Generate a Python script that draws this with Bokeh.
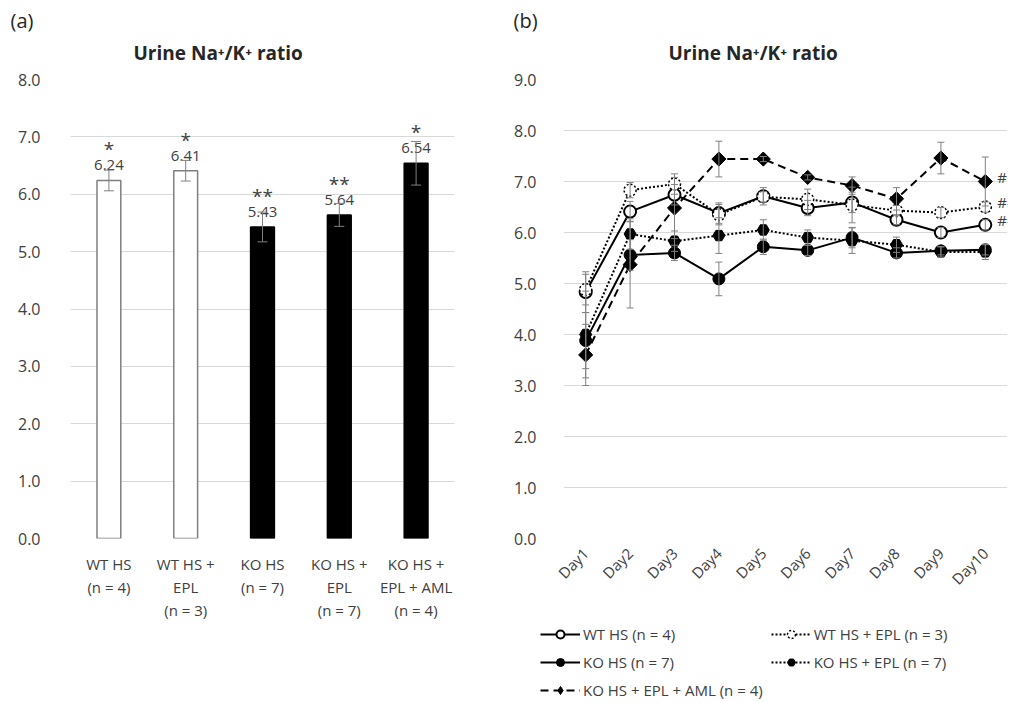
from bokeh.plotting import figure
from bokeh.layouts import row, column
from bokeh.models import (ColumnDataSource, FactorRange, Range1d, Whisker, TeeHead, Title,
                          Legend, LegendItem, FixedTicker, PrintfTickFormatter)
from bokeh.core.properties import value
from bokeh.embed import file_html
from bokeh.resources import INLINE

FONT = "Open Sans"
TXT = "#404040"
GRID = "#d9d9d9"
ERR = "#808080"
NAN = float("nan")

# ---------------- Panel (a) data ----------------
groups = ["WT HS\n(n = 4)", "WT HS +\nEPL\n(n = 3)", "KO HS\n(n = 7)",
          "KO HS +\nEPL\n(n = 7)", "KO HS +\nEPL + AML\n(n = 4)"]
bar_values = [6.24, 6.41, 5.43, 5.64, 6.54]
bar_errors = [0.18, 0.18, 0.26, 0.20, 0.38]
bar_labels = ["6.24", "6.41", "5.43", "5.64", "6.54"]
bar_stars = ["*", "*", "**", "**", "*"]
bar_fill = ["white", "white", "black", "black", "black"]
bar_line = ["#7f7f7f", "#7f7f7f", "black", "black", "black"]

# ---------------- Panel (b) data ----------------
days = ["Day1", "Day2", "Day3", "Day4", "Day5", "Day6", "Day7", "Day8", "Day9", "Day10"]
wt_hs = [4.83, 6.41, 6.74, 6.38, 6.71, 6.48, 6.59, 6.25, 6.00, 6.15]
wt_hs_err = [0.40, 0.20, 0.20, 0.20, 0.17, 0.15, 0.20, 0.10, 0.10, 0.10]
wt_epl = [4.88, 6.83, 6.95, 6.35, 6.70, 6.65, 6.54, 6.43, 6.39, 6.50]
wt_epl_err = [0.30, 0.15, 0.20, 0.20, 0.10, 0.20, 0.35, 0.10, 0.10, 0.10]
ko_hs = [3.88, 5.56, 5.60, 5.09, 5.72, 5.65, 5.90, 5.60, 5.64, 5.66]
ko_hs_err = [0.55, 0.30, 0.15, 0.33, 0.15, 0.10, 0.20, 0.10, 0.08, 0.10]
ko_epl = [4.00, 5.97, 5.83, 5.94, 6.05, 5.90, 5.84, 5.76, 5.62, 5.62]
ko_epl_err = [0.85, 0.30, 0.20, 0.35, 0.20, 0.15, 0.25, 0.15, 0.10, 0.15]
ko_aml = [3.60, 5.37, 6.48, 7.44, 7.44, 7.08, 6.92, 6.66, 7.46, 7.00]
ko_aml_err = [0.60, 0.85, 0.60, 0.35, 0.05, 0.05, 0.17, 0.22, 0.31, 0.48]
series_labels = ["WT HS (n = 4)", "WT HS + EPL (n = 3)", "KO HS (n = 7)",
                 "KO HS + EPL (n = 7)", "KO HS + EPL + AML (n = 4)"]
legend_order = [0, 2, 4, 1, 3]   # legend fills column by column
sig_text = ["#", "##", "##"]


def style_axes(p):
    p.outline_line_color = None
    p.xgrid.visible = False
    p.ygrid.grid_line_color = GRID
    p.ygrid.grid_line_width = 1
    for ax in (p.xaxis[0], p.yaxis[0]):
        ax.axis_line_color = None
        ax.major_tick_line_color = None
        ax.minor_tick_line_color = None
        ax.major_label_text_font = FONT
        ax.major_label_text_color = TXT
    p.yaxis[0].major_label_text_font_size = "16px"
    p.yaxis[0].formatter = PrintfTickFormatter(format="%.1f")


def add_titles(p, main_offset, tag, tag_offset):
    p.add_layout(Title(text="Urine Na\u207a/K\u207a ratio", text_font=FONT, text_font_size="19px",
                       text_font_style="bold", text_color="#262626", align="left",
                       offset=main_offset, standoff=27), "above")
    p.add_layout(Title(text=tag, text_font=FONT, text_font_size="20px", text_font_style="normal",
                       text_color="#262626", align="left", offset=tag_offset, standoff=-19,
                       text_line_height=0.6), "above")


# ---------------- Figure (a) ----------------
pa = figure(width=498, height=624, x_range=FactorRange(*groups, range_padding=0),
            y_range=Range1d(0, 8), output_backend="svg", toolbar_location=None,
            min_border_left=70, min_border_right=44, min_border_top=79, min_border_bottom=86)
style_axes(pa)
add_titles(pa, 63, "(a)", -60)
pa.yaxis[0].ticker = FixedTicker(ticks=list(range(0, 9)))
pa.yaxis[0].major_label_standoff = 24
pa.xaxis[0].major_label_text_font_size = "15px"
pa.xaxis[0].major_label_text_line_height = 1.15
pa.xaxis[0].major_label_standoff = 9

src_a = ColumnDataSource(dict(
    x=groups, top=bar_values,
    upper=[v + e for v, e in zip(bar_values, bar_errors)],
    lower=[v - e for v, e in zip(bar_values, bar_errors)],
    lbl=bar_labels, star=bar_stars, fill=bar_fill, line=bar_line))
pa.vbar(x="x", top="top", width=0.31, fill_color="fill", line_color="line", line_width=1.5, source=src_a)
pa.add_layout(Whisker(source=src_a, base="x", upper="upper", lower="lower", level="overlay",
                      line_color=ERR, line_width=1,
                      upper_head=TeeHead(size=10, line_color=ERR, line_width=1),
                      lower_head=TeeHead(size=10, line_color=ERR, line_width=1)))
pa.text(x="x", y="top", text="lbl", source=src_a, text_align="center", text_baseline="middle",
        y_offset=-15, text_font=value(FONT), text_font_size="15px", text_color=TXT)
pa.text(x="x", y="top", text="star", source=src_a, text_align="center", text_baseline="middle",
        y_offset=-31, text_font=value(FONT), text_font_size="19px", text_color=TXT)

# ---------------- Figure (b) ----------------
pb = figure(width=510, height=624, x_range=FactorRange(*days, range_padding=0),
            y_range=Range1d(0, 9), output_backend="svg", toolbar_location=None,
            min_border_left=65, min_border_right=1, min_border_top=79, min_border_bottom=85)
style_axes(pb)
add_titles(pb, 105, "(b)", -50)
pb.yaxis[0].ticker = FixedTicker(ticks=list(range(0, 10)))
pb.yaxis[0].major_label_standoff = 21
pb.xaxis[0].major_label_text_font_size = "15px"
pb.xaxis[0].major_label_orientation = 0.785398
pb.xaxis[0].major_label_standoff = 6

specs = [
    (wt_hs, wt_hs_err, dict(line_dash="solid", line_width=2),
     dict(marker="circle", size=12, fill_color="white", line_color="black", line_width=2)),
    (wt_epl, wt_epl_err, dict(line_dash="2 2", line_width=2),
     dict(marker="circle", size=12, fill_color="white", line_color="black", line_width=1.5, line_dash="2 2")),
    (ko_hs, ko_hs_err, dict(line_dash="solid", line_width=2),
     dict(marker="circle", size=12, fill_color="black", line_color="black", line_width=1)),
    (ko_epl, ko_epl_err, dict(line_dash="2 2", line_width=2),
     dict(marker="hex", size=12, fill_color="black", line_color="black", line_width=1)),
    (ko_aml, ko_aml_err, dict(line_dash="8 5", line_width=2),
     dict(marker="square", angle=0.785398, size=10, fill_color="black", line_color="black", line_width=1)),
]

for vals, errs, lkw, mkw in specs:
    src = ColumnDataSource(dict(x=days, y=vals,
                                upper=[v + e for v, e in zip(vals, errs)],
                                lower=[v - e for v, e in zip(vals, errs)]))
    pb.add_layout(Whisker(source=src, base="x", upper="upper", lower="lower", level="glyph",
                          line_color=ERR, line_width=1,
                          upper_head=TeeHead(size=7, line_color=ERR, line_width=1),
                          lower_head=TeeHead(size=7, line_color=ERR, line_width=1)))
    pb.line(x="x", y="y", source=src, line_color="black", **lkw)
    pb.scatter(x="x", y="y", source=src, **mkw)

sig_src = ColumnDataSource(dict(x=[days[-1]] * 3, y=[ko_aml[-1], wt_epl[-1], wt_hs[-1]], t=sig_text))
pb.text(x="x", y="y", text="t", source=sig_src, x_offset=12, y_offset=-5, text_align="left",
        text_baseline="middle", text_font=value(FONT), text_font_size="15px", text_color=TXT)

# ---------------- Legend strip under both panels ----------------
pl = figure(width=1008, height=76, x_range=Range1d(0, 1), y_range=Range1d(0, 1),
            output_backend="svg", toolbar_location=None,
            min_border_left=0, min_border_right=0, min_border_top=0, min_border_bottom=0,
            x_axis_location=None, y_axis_location=None)
pl.outline_line_color = None
pl.grid.visible = False
items = []
for i in legend_order:
    vals, errs, lkw, mkw = specs[i]
    lkw2 = dict(lkw)
    mkw2 = {k: v for k, v in mkw.items() if k != "angle"}
    if i == 4:
        mkw2["marker"] = "diamond"
        mkw2["size"] = 14
    lr = pl.line(x=[NAN], y=[NAN], line_color="black", **lkw2)
    sr = pl.scatter(x=[NAN], y=[NAN], **mkw2)
    items.append(LegendItem(label=series_labels[i], renderers=[lr, sr]))
legend = Legend(items=items, ncols=2, location=(540, 0),
                label_text_font=FONT, label_text_font_size="15px", label_text_color=TXT,
                glyph_width=40, glyph_height=20, label_height=20, spacing=8,
                label_standoff=3, border_line_alpha=0, background_fill_alpha=0,
                padding=0, margin=0)
pl.add_layout(legend)

layout = column(row(pa, pb), pl)
open("out.html", "w").write(file_html(layout, INLINE))
